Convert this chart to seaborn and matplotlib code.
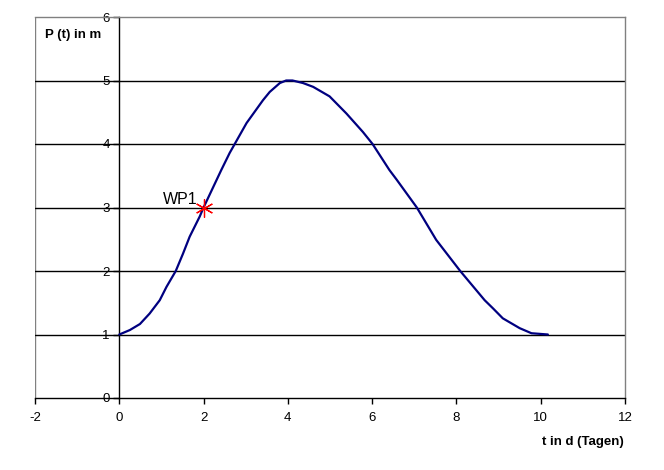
import matplotlib
matplotlib.use("Agg")
import matplotlib.pyplot as plt
import numpy as np
import pandas as pd
import seaborn as sns

# values
t_days = [0.0, 0.25, 0.49, 0.72, 0.96, 1.12, 1.34, 1.51, 1.67, 1.91, 2.0,
          2.42, 2.62, 3.02, 3.41, 3.57, 3.81, 3.96, 4.11, 4.36, 4.6, 4.99,
          5.39, 5.78, 6.01, 6.41, 6.58, 7.06, 7.52, 8.09, 8.67, 8.87, 9.1,
          9.5, 9.78, 10.17]
p_m = [1.0, 1.07, 1.165, 1.33, 1.54, 1.75, 2.0, 2.27, 2.54, 2.86, 3.0,
       3.59, 3.86, 4.33, 4.69, 4.82, 4.96, 5.0, 5.0, 4.96, 4.9, 4.75,
       4.48, 4.19, 4.0, 3.59, 3.44, 3.0, 2.49, 2.0, 1.54, 1.41, 1.255,
       1.1, 1.02, 1.0]
wp_t = [2.0]
wp_p = [3.0]
wp_label = "WP1"
x_ticks = [-2, 0, 2, 4, 6, 8, 10, 12]
y_ticks = [0, 1, 2, 3, 4, 5, 6]

df = pd.DataFrame({"t": t_days, "P": p_m})

sns.set_style("white")
plt.rcParams["font.family"] = ["Liberation Sans", "DejaVu Sans"]
plt.rcParams["axes.unicode_minus"] = False
plt.rcParams["text.color"] = "black"

fig = plt.figure(figsize=(6.64, 4.70), dpi=100)
ax = fig.add_axes([35 / 664, 1 - 398 / 470, 590 / 664, 381 / 470])

for y in y_ticks[1:-1]:
    ax.axhline(y, color="black", lw=1, zorder=1)

sns.lineplot(data=df, x="t", y="P", sort=False, color="#000080", lw=1.6,
             ax=ax, zorder=3)
ax.plot(wp_t, wp_p, marker=(6, 2, 0), ms=13, mew=0.9, color="red",
        ls="none", zorder=4)
ax.text(1.86, 3.12, wp_label, ha="right", va="center", fontsize=11.5,
        color="black")

ax.set_xlim(-2, 12)
ax.set_ylim(0, 6)
ax.set_xticks(x_ticks)
ax.set_yticks(y_ticks)
ax.set_xlabel("")
ax.set_ylabel("")

ax.spines["left"].set_position(("data", 0))
ax.spines["left"].set_color("black")
ax.spines["bottom"].set_color("black")
for s in ["top", "right"]:
    ax.spines[s].set_color("#808080")
    ax.spines[s].set_linewidth(1)
ax.spines["left"].set_linewidth(1)
ax.spines["bottom"].set_linewidth(1)
ax.axvline(-2, color="#808080", lw=1, zorder=0)

ax.tick_params(axis="both", which="both", direction="out", length=4,
               width=1, color="black", labelcolor="black", labelsize=9.5,
               pad=3, left=True, bottom=True)
ax.tick_params(axis="x", pad=6)

fig.text(45 / 664, 1 - 35 / 470, "P (t) in m", fontsize=9.5,
         fontweight="bold", ha="left", va="center")
fig.text(624 / 664, 1 - 442 / 470, "t in d (Tagen)", fontsize=9.5,
         fontweight="bold", ha="right", va="center")

fig.savefig("out.png", dpi=100)
